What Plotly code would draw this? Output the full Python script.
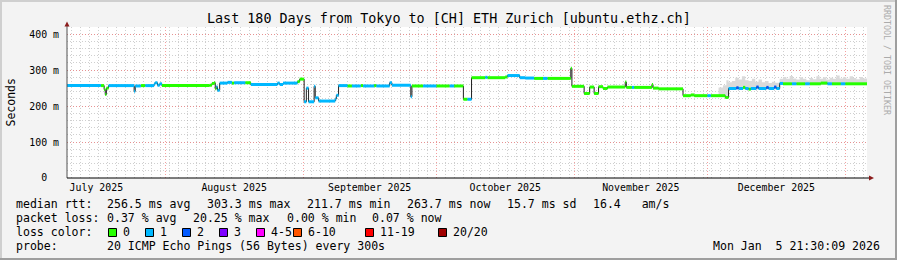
import plotly.graph_objects as go
import pandas as pd

# ---------------- data ----------------
T_START = "2025-07-09 21:30:09"
T_END = "2026-01-05 21:30:09"

# median RTT steps (ms) and the loss class of each step
med_time = [
    "2025-07-09 21:30", "2025-07-17 12:00", "2025-07-18 06:00", "2025-07-18 12:00", "2025-07-18 18:00", "2025-07-19 06:00", "2025-07-25 00:00", "2025-07-25 06:00",
    "2025-07-26 12:00", "2025-07-27 12:00", "2025-07-29 12:00", "2025-07-29 18:00", "2025-07-30 06:00", "2025-07-30 18:00", "2025-07-31 06:00", "2025-08-11 00:00",
    "2025-08-11 12:00", "2025-08-12 00:00", "2025-08-12 06:00", "2025-08-12 12:00", "2025-08-12 18:00", "2025-08-13 06:00", "2025-08-15 00:00", "2025-08-16 00:00",
    "2025-08-16 12:00", "2025-08-19 00:00", "2025-08-20 06:00", "2025-08-26 06:00", "2025-08-26 18:00", "2025-08-27 12:00", "2025-08-30 18:00", "2025-08-31 06:00",
    "2025-09-01 06:00", "2025-09-01 18:00", "2025-09-02 06:00", "2025-09-03 12:00", "2025-09-03 18:00", "2025-09-04 12:00", "2025-09-08 06:00", "2025-09-08 12:00",
    "2025-09-09 00:00", "2025-09-11 00:00", "2025-09-12 00:00", "2025-09-14 00:00", "2025-09-14 12:00", "2025-09-17 00:00", "2025-09-17 12:00", "2025-09-20 12:00",
    "2025-09-21 00:00", "2025-09-25 06:00", "2025-09-25 12:00", "2025-09-28 00:00", "2025-10-01 00:00", "2025-10-04 00:00", "2025-10-05 00:00", "2025-10-07 02:00",
    "2025-10-08 00:00", "2025-10-08 22:00", "2025-10-12 00:00", "2025-10-12 12:00", "2025-10-16 12:00", "2025-10-17 00:00", "2025-10-19 18:00", "2025-10-21 00:00",
    "2025-10-23 00:00", "2025-10-25 00:00", "2025-10-26 00:00", "2025-10-31 06:00", "2025-10-31 12:00", "2025-11-03 06:00", "2025-11-04 12:00", "2025-11-05 12:00",
    "2025-11-06 12:00", "2025-11-07 12:00", "2025-11-08 12:00", "2025-11-12 12:00", "2025-11-12 18:00", "2025-11-14 00:00", "2025-11-14 12:00", "2025-11-18 12:00",
    "2025-11-18 18:00", "2025-11-20 00:00", "2025-11-25 12:00", "2025-11-27 06:00", "2025-11-28 00:00", "2025-12-01 00:00", "2025-12-01 18:00", "2025-12-05 00:00",
    "2025-12-05 18:00", "2025-12-07 12:00", "2025-12-08 00:00", "2025-12-09 00:00", "2025-12-09 12:00", "2025-12-10 06:00", "2025-12-10 18:00", "2025-12-12 00:00",
    "2025-12-12 12:00", "2025-12-14 06:00", "2025-12-14 18:00", "2025-12-16 00:00", "2025-12-16 12:00", "2025-12-17 06:00", "2025-12-18 00:00", "2025-12-20 00:00",
    "2025-12-21 00:00", "2025-12-23 00:00", "2025-12-24 00:00", "2025-12-26 12:00", "2025-12-28 00:00", "2025-12-29 00:00", "2025-12-31 00:00", "2026-01-01 00:00",
]
med_ms = [
    257, 257, 246, 232, 250, 257, 241, 256,
    257, 257, 262, 265, 258, 262, 257, 258,
    263, 265, 248, 254, 244, 264, 266, 264,
    265, 265, 260, 264, 260, 264, 268, 275,
    212, 250, 212, 255, 223, 214, 220, 230,
    257, 256, 256, 257, 256, 257, 256, 265,
    258, 226, 256, 256, 256, 256, 256, 219,
    219, 279, 280, 279, 281, 285, 279, 278,
    277, 277, 277, 305, 255, 235, 253, 235,
    254, 249, 253, 267, 252, 252, 252, 260,
    250, 248, 229, 231, 229, 229, 229, 224,
    249, 251, 249, 252, 249, 247, 249, 253,
    249, 252, 249, 253, 249, 263, 262, 262,
    262, 262, 262, 264, 262, 262, 262, 262,
]
med_loss = [
    1, 0, 0, 0, 0, 1, 1, 1,
    0, 1, 1, 1, 1, 1, 0, 0,
    0, 0, 0, 1, 1, 1, 1, 0,
    1, 0, 1, 1, 1, 1, 0, 0,
    1, 1, 1, 1, 1, 1, 1, 1,
    1, 0, 1, 0, 1, 0, 1, 1,
    1, 1, 0, 1, 0, 1, 0, 0,
    1, 0, 1, 0, 0, 1, 1, 1,
    0, 1, 0, 0, 0, 0, 0, 0,
    0, 0, 0, 0, 0, 1, 0, 0,
    0, 0, 0, 0, 0, 1, 0, 0,
    1, 2, 1, 0, 1, 0, 1, 2,
    1, 2, 1, 2, 1, 1, 0, 1,
    0, 1, 0, 0, 1, 0, 1, 0,
]

# grey "smoke" (spread of the pings) visible in December
smoke_time = [
    "2025-12-03 12:00", "2025-12-04 12:00", "2025-12-05 06:00", "2025-12-05 18:00", "2025-12-06 12:00", "2025-12-07 06:00", "2025-12-08 00:00", "2025-12-08 18:00", "2025-12-09 12:00",
    "2025-12-10 06:00", "2025-12-11 00:00", "2025-12-11 18:00", "2025-12-12 12:00", "2025-12-13 06:00", "2025-12-14 00:00", "2025-12-14 18:00", "2025-12-15 12:00", "2025-12-16 06:00",
    "2025-12-17 06:00", "2025-12-18 00:00", "2025-12-18 18:00", "2025-12-19 12:00", "2025-12-20 06:00", "2025-12-21 00:00", "2025-12-21 18:00", "2025-12-22 12:00", "2025-12-23 06:00",
    "2025-12-24 00:00", "2025-12-24 18:00", "2025-12-25 12:00", "2025-12-26 06:00", "2025-12-27 00:00", "2025-12-27 18:00", "2025-12-28 12:00", "2025-12-29 06:00", "2025-12-30 00:00",
    "2025-12-30 18:00", "2025-12-31 12:00", "2026-01-01 06:00", "2026-01-02 00:00", "2026-01-02 18:00", "2026-01-03 12:00", "2026-01-04 06:00", "2026-01-05 00:00", "2026-01-05 21:30",
]
smoke_high_ms = [
    252, 258, 272, 266, 270, 279, 274, 283, 272,
    270, 276, 268, 274, 266, 270, 264, 268, 265,
    276, 281, 276, 284, 277, 274, 280, 276, 272,
    278, 275, 283, 276, 280, 274, 279, 276, 285,
    277, 280, 276, 283, 278, 275, 281, 277, 277,
]
smoke_low_ms = [
    226, 226, 224, 246, 246, 246, 246, 246, 246,
    246, 246, 246, 246, 246, 246, 246, 246, 246,
    259, 259, 259, 259, 259, 259, 259, 259, 259,
    259, 259, 259, 259, 259, 259, 259, 259, 259,
    259, 259, 259, 259, 259, 259, 259, 259, 259,
]

loss_labels = ["0", "1", "2", "3", "4-5", "6-10", "11-19", "20/20"]
loss_colors = ["#26ff00", "#00b8ff", "#0059ff", "#7e00ff", "#ff00ff", "#ff5500", "#ff0000", "#a10000"]

y_tickvals_s = [0, 0.1, 0.2, 0.3, 0.4]
y_ticktext = ["0  ", "100 m", "200 m", "300 m", "400 m"]

title_text = "Last 180 Days from Tokyo to [CH] ETH Zurich [ubuntu.ethz.ch]"
row_median = [("median rtt:", 16), ("256.5 ms avg", 107.3), ("303.3 ms max", 207.3), ("211.7 ms min", 307.3),
              ("263.7 ms now", 406.7), ("15.7 ms sd", 507.3), ("16.4   am/s", 593.3)]
row_loss = [("packet loss:", 16), ("0.37 % avg", 107.3), ("20.25 % max", 193.4), ("0.00 % min", 287.3), ("0.07 % now", 372.3)]
swatch_x = [108, 145, 182, 219, 256, 293, 365, 438]
probe_text = "20 ICMP Echo Pings (56 Bytes) every 300s"
stamp_text = "Mon Jan  5 21:30:09 2026"

assert len(med_time) == len(med_ms) == len(med_loss)
assert len(smoke_time) == len(smoke_high_ms) == len(smoke_low_ms)

# ---------------- geometry ----------------
W, H = 897, 260
L, R, T, B = 67, 30, 27, 82
PW, PH = W - L - R, H - T - B
MONO = "DejaVu Sans Mono"
NB = "\u00a0"


def px(x):
    return (x - L) / PW


def py(y):
    return (H - B - y) / PH


def nb(s):
    return s.replace(" ", NB)


fig = go.Figure()

# smoke
fig.add_trace(go.Scatter(x=smoke_time, y=[v / 1000 for v in smoke_low_ms], mode="lines",
                         line=dict(width=0, shape="hv"), hoverinfo="skip", showlegend=False))
fig.add_trace(go.Scatter(x=smoke_time, y=[v / 1000 for v in smoke_high_ms], mode="lines",
                         line=dict(width=0, shape="hv"), fill="tonexty", fillcolor="#dadada",
                         hoverinfo="skip", showlegend=False))

# thin dark median line
all_t = med_time + [T_END]
all_v = [v / 1000 for v in med_ms] + [med_ms[-1] / 1000]
fig.add_trace(go.Scatter(x=all_t, y=all_v, mode="lines", line=dict(color="#202020", width=1, shape="hv"),
                         hoverinfo="skip", showlegend=False))

# coloured median band per loss class (horizontal pieces only)
for cls, col in enumerate(loss_colors):
    xs, ys = [], []
    for i, c in enumerate(med_loss):
        if c == cls:
            xs += [all_t[i], all_t[i + 1], None]
            ys += [all_v[i], all_v[i], None]
    if xs:
        fig.add_trace(go.Scatter(x=xs, y=ys, mode="lines", line=dict(color=col, width=3),
                                 hoverinfo="skip", showlegend=False, connectgaps=False))

MAJ = "rgba(240,120,120,0.7)"
MIN = "rgba(160,160,160,0.5)"

fig.update_layout(
    width=W, height=H, margin=dict(l=L, r=R, t=T, b=B, pad=0),
    paper_bgcolor="#f3f3f3", plot_bgcolor="#ffffff",
    showlegend=False,
    font=dict(family=MONO, size=10, color="#000000"),
    xaxis=dict(
        type="date", range=[T_START, T_END], dtick="M1", tick0="2025-07-01",
        tickformat="%B %Y", ticklabelmode="period", ticks="", showline=False, zeroline=False,
        showgrid=True, gridcolor=MAJ, griddash="1px,2px", gridwidth=1,
        tickfont=dict(family=MONO, size=9.9, color="#000000"), ticklabelstandoff=2,
        minor=dict(dtick=2 * 86400000, tick0="2026-01-01", showgrid=True, gridcolor=MIN,
                   griddash="1px,2px", gridwidth=1),
        fixedrange=True,
    ),
    yaxis=dict(
        range=[0, 0.42], tickvals=y_tickvals_s, ticktext=[nb(s) for s in y_ticktext], ticks="",
        showline=False, zeroline=False, showgrid=True, gridcolor=MAJ, griddash="1px,2px", gridwidth=1,
        tickfont=dict(family=MONO, size=9.9, color="#000000"), ticklabelstandoff=7,
        minor=dict(dtick=0.02, showgrid=True, gridcolor=MIN, griddash="1px,2px", gridwidth=1),
        fixedrange=True,
    ),
)

ann = []
ann.append(dict(x=px(448.5), y=py(18.5), text=nb(title_text), showarrow=False, xanchor="center", yanchor="middle",
                font=dict(family=MONO, size=13.4, color="#000000")))
ann.append(dict(x=px(10.5), y=py(103), text="Seconds", textangle=-90, showarrow=False, xanchor="center",
                yanchor="middle", font=dict(family=MONO, size=11.5, color="#000000")))
ann.append(dict(x=px(887), y=py(60), text=nb("RRDTOOL / TOBI OETIKER"), textangle=90, showarrow=False,
                xanchor="center", yanchor="middle", font=dict(family=MONO, size=8.3, color="#ababab")))
for txt, x in row_median:
    ann.append(dict(x=px(x), y=py(204.3), text=nb(txt), showarrow=False, xanchor="left", yanchor="middle"))
for txt, x in row_loss:
    ann.append(dict(x=px(x), y=py(218.3), text=nb(txt), showarrow=False, xanchor="left", yanchor="middle"))
ann.append(dict(x=px(16), y=py(232.3), text=nb("loss color:"), showarrow=False, xanchor="left", yanchor="middle"))
for lab, x in zip(loss_labels, swatch_x):
    ann.append(dict(x=px(x + 14.5), y=py(232.3), text=nb(lab), showarrow=False, xanchor="left", yanchor="middle"))
ann.append(dict(x=px(16), y=py(246.3), text=nb("probe:"), showarrow=False, xanchor="left", yanchor="middle"))
ann.append(dict(x=px(107.3), y=py(246.3), text=nb(probe_text), showarrow=False, xanchor="left", yanchor="middle"))
ann.append(dict(x=px(880), y=py(246.3), text=nb(stamp_text), showarrow=False, xanchor="right", yanchor="middle"))
for a in ann:
    a.setdefault("font", dict(family=MONO, size=11.55, color="#000000"))
    a.update(xref="paper", yref="paper", borderpad=0, borderwidth=0)
fig.update_layout(annotations=ann)

shapes = []


def rect(x0, y0, x1, y1, fill, line_color=None, lw=0):
    return dict(type="rect", xref="paper", yref="paper", x0=px(x0), x1=px(x1), y0=py(y1), y1=py(y0),
                fillcolor=fill, line=dict(width=lw, color=line_color or fill), layer="above")


# swatches
for x, col in zip(swatch_x, loss_colors):
    shapes.append(rect(x + 0.5, 228.5, x + 8.5, 236.5, col, "#000000", 1))
# axes
shapes.append(dict(type="line", xref="paper", yref="paper", x0=px(67), x1=px(67), y0=py(178), y1=py(25),
                   line=dict(color="#505050", width=1), layer="above"))
shapes.append(dict(type="line", xref="paper", yref="paper", x0=px(67), x1=px(870), y0=py(178), y1=py(178),
                   line=dict(color="#000000", width=1), layer="above"))
shapes.append(dict(type="path", xref="paper", yref="paper",
                   path=f"M {px(64.5)},{py(26.5)} L {px(69.5)},{py(26.5)} L {px(67)},{py(21.5)} Z",
                   fillcolor="#8b1c1c", line=dict(width=0), layer="above"))
shapes.append(dict(type="path", xref="paper", yref="paper",
                   path=f"M {px(869)},{py(175.5)} L {px(869)},{py(180.5)} L {px(874)},{py(178)} Z",
                   fillcolor="#8b1c1c", line=dict(width=0), layer="above"))
# 3D frame
shapes.append(rect(0, 0, W, 2, "#cfcfcf"))
shapes.append(rect(0, 0, 2, H, "#cfcfcf"))
shapes.append(rect(0, H - 2, W, H, "#9e9e9e"))
shapes.append(rect(W - 2, 0, W, H, "#9e9e9e"))
fig.update_layout(shapes=shapes)

fig.write_html("out.html")
